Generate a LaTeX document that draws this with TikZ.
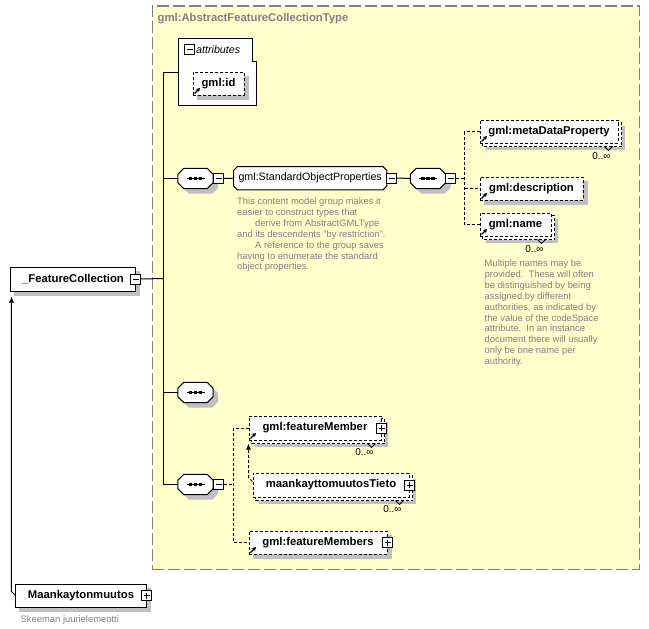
\documentclass[tikz,border=0pt]{standalone}
\usepackage{fontspec}
\setmainfont{Liberation Sans}
\usetikzlibrary{arrows.meta}
\pgfdeclarelayer{bgzero}
\pgfdeclarelayer{background}
\pgfsetlayers{bgzero,background,main}
\definecolor{yel}{HTML}{FFFFCC}
\definecolor{shd}{HTML}{C0C0C0}
\definecolor{gtxt}{HTML}{808080}
\newcommand\elfont{\fontsize{11.3}{13}\selectfont\bfseries}
\newcommand\regfont{\fontsize{10.7}{13}\selectfont}
\newcommand\annfont{\fontsize{9.4}{10.9}\selectfont}
\tikzset{
  lw/.style={line width=1pt},
  dl/.style={line width=1pt, dash pattern=on 3pt off 2pt},
  elembox/.style={draw, lw, fill=white, inner sep=0pt, anchor=north west, font=\elfont},
  optbox/.style={elembox, dash pattern=on 3pt off 2pt},
  minusbox/.style={draw, lw, fill=white, minimum size=10pt, inner sep=0pt,
     path picture={\draw[line width=1pt] ([xshift=2pt]path picture bounding box.west) -- ([xshift=-2pt]path picture bounding box.east);}},
  plusbox/.style={draw, lw, fill=white, minimum size=10pt, inner sep=0pt,
     path picture={\draw[line width=1pt] ([xshift=2pt]path picture bounding box.west) -- ([xshift=-2pt]path picture bounding box.east)
        ([yshift=2pt]path picture bounding box.south) -- ([yshift=-2pt]path picture bounding box.north);}},
  seqbox/.style={minimum width=35pt, minimum height=20pt, inner sep=0pt},
  anno/.style={text=gtxt, font=\annfont, align=left, inner sep=0pt, anchor=north west},
  mult/.style={font=\fontsize{10}{12}\selectfont, inner sep=0pt},
  tipa/.style={-{Latex[length=6pt,width=5pt]}},
}
\newcommand\ShadowBox[2]{\begin{pgfonlayer}{background}\fill[shd] ([shift={(#2,#2)}]#1.north west) rectangle ([shift={(#2,#2)}]#1.south east);\end{pgfonlayer}}
\newcommand\StackBox[1]{\begin{pgfonlayer}{background}\fill[shd] ([shift={(6,6)}]#1.north west) rectangle ([shift={(6,6)}]#1.south east);\draw[dl, fill=white] ([shift={(3,3)}]#1.north west) rectangle ([shift={(3,3)}]#1.south east);\end{pgfonlayer}
 \draw[lw] ([shift={(-14,3)}]#1.south east) -- ++(4,4) -- ++(4,-4);}
\newcommand\RefMark[1]{\draw[line width=1.3pt, -{Stealth[length=4pt,width=4.5pt]}] ([shift={(2,-2)}]#1.south west) -- ++(5.5,-5.5);}
\newcommand\OctDraw[4]{%
 \path[#4] ([shift={(#2+#3,#2)}]#1.north west) -- ([shift={(#2-#3,#2)}]#1.north east) -- ([shift={(#2,#2+#3)}]#1.north east) -- ([shift={(#2,#2-#3)}]#1.south east) -- ([shift={(#2-#3,#2)}]#1.south east) -- ([shift={(#2+#3,#2)}]#1.south west) -- ([shift={(#2,#2-#3)}]#1.south west) -- ([shift={(#2,#2+#3)}]#1.north west) -- cycle;}
\newcommand\SeqNode[3]{%
 \node[seqbox] (#1) at (#2,#3) {};
 \begin{pgfonlayer}{background}\OctDraw{#1}{5}{6}{fill=shd}\end{pgfonlayer}
 \OctDraw{#1}{0}{6}{draw, lw, fill=white}
 \draw[lw] ([xshift=-9pt]#1.center) -- ([xshift=9pt]#1.center);
 \foreach \d in {-5,0,5} {\fill ([xshift=\d pt]#1.center) ++(-1.7,-1.7) rectangle ++(3.4,3.4);}
}
\begin{document}
\begin{tikzpicture}[x=1pt,y=-1pt]
\useasboundingbox (-0.5,-0.5) rectangle (648.5,628.5);
% container
\begin{pgfonlayer}{bgzero}
\node[draw=gtxt, fill=yel, line width=1.4pt, dash pattern=on 12pt off 4pt, anchor=north west, minimum width=487pt, minimum height=563pt, inner sep=0pt] (ct) at (151,5) {};
\end{pgfonlayer}
\node[anchor=west, inner sep=0pt, text=gtxt, font=\elfont] (cttitle) at (157,18) {gml:AbstractFeatureCollectionType};

% root elements
\node[elembox, minimum width=124pt, minimum height=24pt] (fc) at (10,266) {\_FeatureCollection};
\ShadowBox{fc}{4}
\node[minusbox] (fcm) at (fc.east) {};
\node[elembox, minimum width=130pt, minimum height=23pt] (mk) at (15,583) {Maankaytonmuutos};
\ShadowBox{mk}{4}
\node[plusbox] (mkp) at (mk.east) {};
\node[anno, anchor=west] (mkdoc) at (20,620) {Skeeman juurielementti};

% attributes
\node[anchor=north west, minimum width=78pt, minimum height=67pt, inner sep=0pt] (attr) at (178,38) {};
\begin{pgfonlayer}{background}
\draw[lw, fill=white] (attr.north west) -- ([xshift=-4pt]attr.north east) -- ([shift={(-4,23)}]attr.north east) -- ([yshift=-23pt]attr.north east) -- (attr.south east) -- (attr.south west) -- cycle;
\end{pgfonlayer}
\node[minusbox] (attrm) at (189,49) {};
\node[anchor=west, inner sep=0pt, font=\regfont\itshape] (attrt) at (195.5,49) {attributes};
\node[optbox, minimum width=51pt, minimum height=23pt] (id) at (192,71) {gml:id};
\ShadowBox{id}{4}
\RefMark{id}

% first sequence
\SeqNode{s1}{195}{178}
\node[minusbox] (s1m) at (218,178) {};
\node[anchor=north west, minimum width=153pt, minimum height=23pt, inner sep=0pt, font=\regfont] (sop) at (233,166) {gml:StandardObjectProperties};
\begin{pgfonlayer}{background}\OctDraw{sop}{0}{4}{draw, lw, fill=white}\end{pgfonlayer}
\node[minusbox] (sopm) at (391,177.5) {};
\node[anno] (sopdoc) at (236.5,197) {This content model group makes it\\easier to construct types that\\\hspace*{18pt}derive from AbstractGMLType\\and its descendents "by restriction".\\\hspace*{18pt}A reference to the group saves\\having to enumerate the standard\\object properties.};

\SeqNode{s2}{427.5}{178}
\node[minusbox] (s2m) at (450,178) {};
\coordinate (br1) at (464,178);

\node[optbox, minimum width=138pt, minimum height=23pt] (mdp) at (479,119) {gml:metaDataProperty};
\StackBox{mdp}
\RefMark{mdp}
\node[mult] (mdpn) at (601,156) {0..∞};

\node[optbox, minimum width=103pt, minimum height=23pt] (desc) at (479,176) {gml:description};
\ShadowBox{desc}{4}
\RefMark{desc}

\node[optbox, minimum width=71pt, minimum height=23pt] (nm) at (479,212) {gml:name};
\StackBox{nm}
\RefMark{nm}
\node[mult] (nmn) at (534,249) {0..∞};
\node[anno] (nmdoc) at (484,259) {Multiple names may be\\provided.\ \ These will often\\be distinguished by being\\assigned by different\\authorities, as indicated by\\the value of the codeSpace\\attribute.\ \ In an instance\\document there will usually\\only be one name per\\authority.};

% other sequences
\SeqNode{s3}{195}{392}
\SeqNode{s4}{195}{484}
\node[minusbox] (s4m) at (218,484) {};
\coordinate (br2) at (233,484);

\node[optbox, minimum width=132pt, minimum height=24pt] (fm) at (248,415) {gml:featureMember};
\StackBox{fm}
\RefMark{fm}
\node[plusbox] (fmp) at (fm.east) {};
\node[mult] (fmn) at (364,452) {0..∞};

\node[optbox, minimum width=156pt, minimum height=24pt] (mt) at (252,472) {maankayttomuutosTieto};
\StackBox{mt}
\node[plusbox] (mtp) at (mt.east) {};
\node[mult] (mtn) at (392,509) {0..∞};

\node[optbox, minimum width=138pt, minimum height=23pt] (fms) at (248,530) {gml:featureMembers};
\ShadowBox{fms}{4}
\RefMark{fms}
\node[plusbox] (fmsp) at (fms.east) {};

% connectors
\coordinate (tr) at (163,278);
\draw[lw] (fcm.east) -- (tr);
\draw[lw] (attr.west) -- (attr.west -| tr) -- (tr |- s4.west) -- (s4.west);
\draw[lw] (tr |- s1.west) -- (s1.west);
\draw[lw] (tr |- s3.west) -- (s3.west);
\draw[lw] (s1m.east) -- (sop.west);
\draw[lw] (sopm.east) -- (s2.west);
\draw[dl] (s2m.east) -- (br1);
\draw[dl] (mdp.west) -| (br1 |- nm.west) -- (nm.west);
\draw[dl] (br1 |- desc.west) -- (desc.west);
\draw[dl] (s4m.east) -- (br2);
\draw[dl] (fm.west) -| (br2 |- fms.west) -- (fms.west);
\coordinate (fmb) at ([yshift=-3pt]fm.south west);
\draw[dl, tipa] ([yshift=-9pt]mt.north west) -- ++(-4,-4) coordinate (mtb) -- (mtb |- fmb);
\coordinate (fcb) at ([yshift=-5pt]fc.south west);
\draw[lw, tipa] (mk.west) -- ++(-4,-4) coordinate (mkb) -- (mkb |- fcb);
\end{tikzpicture}
\end{document}
